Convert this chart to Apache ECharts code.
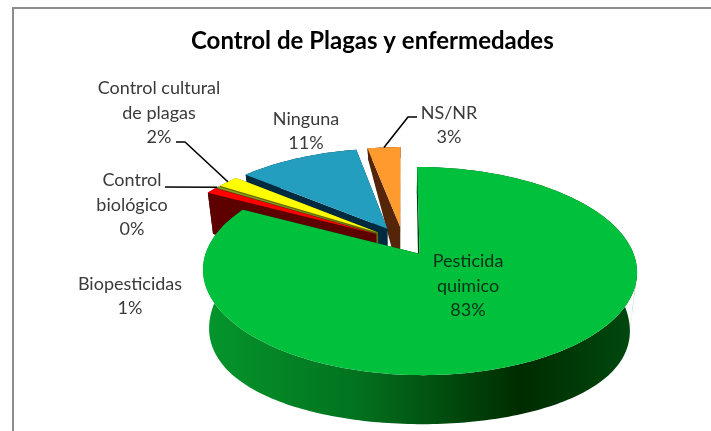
<!DOCTYPE html>
<html>
<head>
<meta charset="utf-8">
<style>
  html, body { margin: 0; padding: 0; background: #fff; }
  #main { width: 711px; height: 431px; }
</style>
<script src="https://cdn.jsdelivr.net/npm/echarts@6/dist/echarts.min.js"></script>
</head>
<body>
<div id="main"></div>
<script>
// order is the pie's clockwise order, starting at 12 o'clock
var categories = ['Pesticida\nquimico', 'Biopesticidas', 'Control\nbiológico', 'Control cultural\nde plagas', 'Ninguna', 'NS/NR'];
var values = [83, 1, 0.3, 2, 11, 3];
var percentLabels = ['83%', '1%', '0%', '2%', '11%', '3%'];

var topColors = ['#00c03c', '#ff0000', '#8a9a1e', '#ffff00', '#249ebf', '#ff9a2e'];
var wallColors = ['#04962c', '#5c0000', '#4f5a10', '#6a6a00', '#002a40', '#55250a'];

// painted back to front
var drawOrder = [5, 4, 3, 2, 1, 0];

// where the labels sit and where their leader lines start
var labelPlaces = [
  { x: 468, y: 286, color: '#0c2f18' },
  { x: 130, y: 296 },
  { x: 132, y: 205, leader: [[165, 187]] },
  { x: 159, y: 113, leader: [[176, 142], [185, 142]] },
  { x: 306, y: 131 },
  { x: 449, y: 125, leader: [[417, 117], [408, 117]] }
];

// 3d pie camera, fitted by eye
var cx = 403, cy = 241, f = 209.5, g = 97, k = 0.163, m = 0.03, explode = 0.15;

// the wall height in the original is not even round the pie
function wallDepth(v) {
  return 56 + 16.4 * v - 20 * v * v;
}

function project(u, v, z) {
  var w = 1 - k * v + m * z;
  return [cx + f * u / w, cy + g * v / (1 - k * v) + z * wallDepth(v)];
}

var total = values.reduce(function (a, b) { return a + b; }, 0);
var angles = [];
var sum = 0;
values.forEach(function (val) {
  var start = sum / total * Math.PI * 2;
  sum += val;
  angles.push([start, sum / total * Math.PI * 2]);
});

var seriesData = drawOrder.map(function (i) {
  return { value: [i, values[i], angles[i][0], angles[i][1]] };
});

// index of the point furthest along dir (-1 left, 1 right)
function extreme(pts, dir) {
  var best = 0;
  pts.forEach(function (p, n) {
    if (p[0] * dir > pts[best][0] * dir) best = n;
  });
  return best;
}

function renderSlice(params, api) {
  var i = api.value(0);
  var a0 = api.value(2);
  var a1 = api.value(3);
  var mid = (a0 + a1) / 2;
  var ax = explode * Math.sin(mid);
  var ay = -explode * Math.cos(mid);

  function rim(t, z) {
    return project(ax + Math.sin(t), ay - Math.cos(t), z);
  }

  var steps = Math.max(2, Math.ceil((a1 - a0) / 0.02));
  var topPts = [project(ax, ay, 0)];
  var wallPts = [];
  var wallLow = [];
  for (var s = 0; s <= steps; s++) {
    var t = a0 + (a1 - a0) * s / steps;
    topPts.push(rim(t, 0));
    wallPts.push(rim(t, 0));
    wallLow.push(rim(t, 1));
  }

  var wallFill = wallColors[i];
  if (i === 0) {
    wallFill = new echarts.graphic.LinearGradient(205, 0, 638, 0, [
      { offset: 0, color: '#04962c' },
      { offset: 0.35, color: '#03721f' },
      { offset: 0.73, color: '#002c00' },
      { offset: 1, color: '#004a10' }
    ], true);
  }

  var apexTop = project(ax, ay, 0);
  var apexBottom = project(ax, ay, 1);
  var children = [];

  [a0, a1].forEach(function (t) {
    children.push({
      type: 'polygon',
      shape: { points: [apexTop, rim(t, 0), rim(t, 1), apexBottom] },
      style: { fill: i === 0 ? '#003a10' : wallColors[i] }
    });
  });
  children.push({
    type: 'polygon',
    shape: { points: wallPts.concat(wallLow.slice().reverse()) },
    style: { fill: wallFill }
  });

  // big slice only: close the silhouette between the top and bottom rim extremes
  if (i === 0) {
    [-1, 1].forEach(function (dir) {
      var from = extreme(wallPts, dir);
      var to = extreme(wallLow, dir);
      var arc = wallPts.slice(Math.min(from, to), Math.max(from, to) + 1);
      children.push({
        type: 'polygon',
        shape: { points: arc.concat([wallLow[to]]) },
        style: { fill: wallFill }
      });
    });
  }

  children.push({
    type: 'polygon',
    shape: { points: topPts },
    style: { fill: topColors[i] }
  });

  var place = labelPlaces[i];
  if (place.leader) {
    children.push({
      type: 'polyline',
      z2: 90,
      shape: { points: place.leader.concat([rim(mid, 0)]) },
      style: { stroke: '#000', lineWidth: 1.6, fill: null }
    });
  }
  children.push({
    type: 'text',
    z2: 100,
    style: {
      text: categories[i] + '\n' + percentLabels[i],
      x: place.x,
      y: place.y,
      align: 'center',
      verticalAlign: 'middle',
      fill: place.color || '#3a3a3a',
      font: '18px Lato',
      lineHeight: 24.5
    }
  });
  return { type: 'group', children: children };
}

var chart = echarts.init(document.getElementById('main'));
chart.setOption({
  animation: false,
  title: {
    text: 'Control de Plagas y enfermedades',
    left: 186,
    top: 24,
    textStyle: { color: '#000', fontFamily: 'Lato', fontSize: 24, fontWeight: 'bold' }
  },
  graphic: [
    { type: 'line', shape: { x1: 12, y1: 8, x2: 711, y2: 8 }, style: { stroke: '#8c8c8c', lineWidth: 2 } },
    { type: 'line', shape: { x1: 13, y1: 8, x2: 13, y2: 431 }, style: { stroke: '#8c8c8c', lineWidth: 2 } }
  ],
  series: [{
    type: 'custom',
    coordinateSystem: 'none',
    renderItem: renderSlice,
    data: seriesData
  }]
});
</script>
</body>
</html>
